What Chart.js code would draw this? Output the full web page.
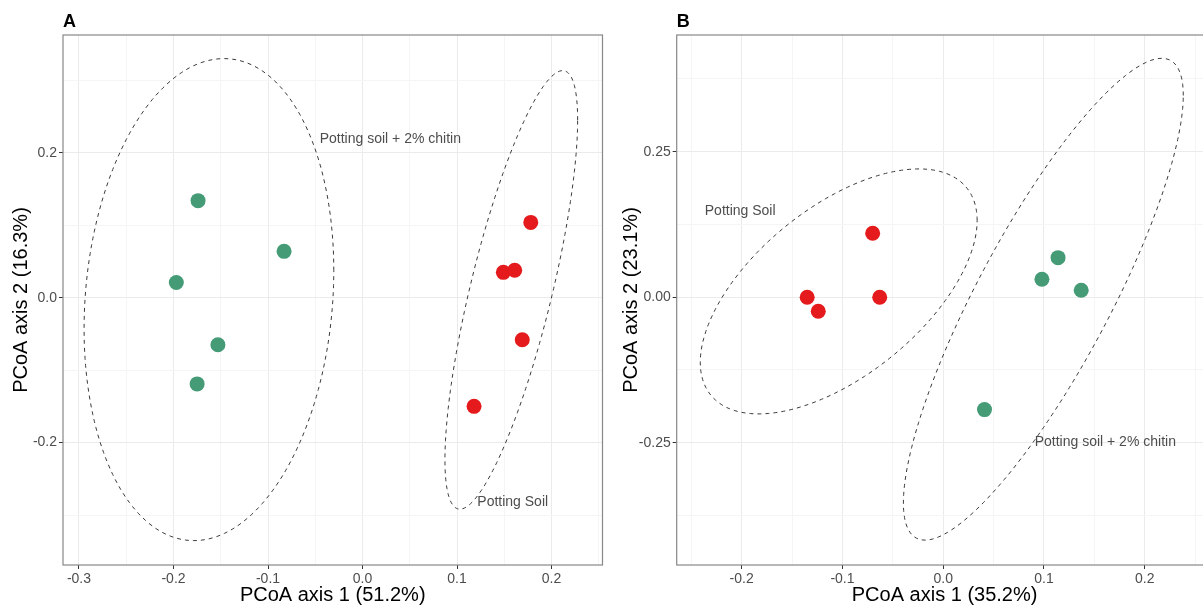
<!DOCTYPE html>
<html>
<head>
<meta charset="utf-8">
<title>PCoA</title>
<script src="https://cdn.jsdelivr.net/npm/chart.js@4.4.1/dist/chart.umd.min.js"></script>
<style>
  html, body { margin: 0; padding: 0; background: #fff; overflow: hidden; }
  .panel { position: absolute; top: 0; height: 607px; }
  #wrapA { left: 0; width: 610px; }
  #wrapB { left: 610px; width: 610px; }
</style>
</head>
<body>
<div class="panel" id="wrapA"><canvas id="chartA"></canvas></div>
<div class="panel" id="wrapB"><canvas id="chartB"></canvas></div>
<script>
// Panel A
const chitinA_x = [-0.174, -0.083, -0.197, -0.153, -0.175];
const chitinA_y = [0.134, 0.064, 0.021, -0.065, -0.119];
const soilA_x = [0.178, 0.149, 0.161, 0.169, 0.118];
const soilA_y = [0.104, 0.035, 0.038, -0.058, -0.150];
const xTicksA = [-0.3, -0.2, -0.1, 0.0, 0.1, 0.2];
const xLabelsA = ['-0.3', '-0.2', '-0.1', '0.0', '0.1', '0.2'];
const yTicksA = [-0.2, 0.0, 0.2];
const yLabelsA = ['-0.2', '0.0', '0.2'];
const xRangeA = [-0.3169, 0.2539];
const yRangeA = [-0.369, 0.3627];
// ellipses: centre, rightmost-point offset (u), vertical conjugate (v)
const ellCentreA = [[-0.1625, -0.0026], [0.1574, 0.0108]];
const ellUA = [[0.1321, 0.0401], [0.0702, 0.2343]];
const ellVA = [[0, 0.3303], [0, 0.1917]];
const textA = ['Potting soil + 2% chitin', 'Potting Soil'];
const textPosA = [[0.0294, 0.2184], [0.1589, -0.2825]];

// Panel B
const chitinB_x = [0.114, 0.098, 0.137, 0.041];
const chitinB_y = [0.068, 0.031, 0.012, -0.193];
const soilB_x = [-0.070, -0.135, -0.063, -0.124];
const soilB_y = [0.110, 0.000, 0.000, -0.024];
const xTicksB = [-0.2, -0.1, 0.0, 0.1, 0.2];
const xLabelsB = ['-0.2', '-0.1', '0.0', '0.1', '0.2'];
const yTicksB = [-0.25, 0.0, 0.25];
const yLabelsB = ['-0.25', '0.00', '0.25'];
const xRangeB = [-0.2645, 0.2673];
const yRangeB = [-0.460, 0.4505];
const ellCentreB = [[-0.1037, 0.0100], [0.0994, -0.0034]];
const ellUB = [[0.1374, 0.1218], [0.1389, 0.3500]];
const ellVB = [[0, 0.1716], [0, 0.2208]];
const textB = ['Potting Soil', 'Potting soil + 2% chitin'];
const textPosB = [[-0.2015, 0.1473], [0.1609, -0.2497]];

const RED = '#E41A1C';
const GREEN = '#449B75';
const FONT = '"Liberation Sans", Arial, sans-serif';

// major ticks + minor gridlines halfway between them
function buildTicks(major, labels, range) {
  const step = major[1] - major[0];
  const out = major.map((v, i) => ({ value: v, isMajor: true, text: labels[i] }));
  for (let i = -1; i < major.length; i++) {
    const m = i < 0 ? major[0] - step / 2 : major[i] + step / 2;
    if (m > range[0] && m < range[1]) out.push({ value: m, isMajor: false, text: '' });
  }
  return out.sort((a, b) => a.value - b.value);
}

function scaleOpts(axis, range, ticks, labels, title, fit) {
  return {
    type: 'linear',
    position: axis === 'x' ? 'bottom' : 'left',
    min: range[0], max: range[1],
    afterBuildTicks: s => { s.ticks = buildTicks(ticks, labels, range); },
    afterFit: s => { if (axis === 'x') s.height = fit; else s.width = fit; },
    grid: {
      color: c => (c.tick && c.tick.isMajor ? '#EBEBEB' : '#F5F5F5'),
      lineWidth: 1,
      tickColor: c => (c.tick && c.tick.isMajor ? '#333333' : 'rgba(0,0,0,0)'),
      tickLength: 4,
      drawTicks: true
    },
    border: { display: false },
    ticks: {
      autoSkip: false, maxRotation: 0, padding: 2,
      color: '#4D4D4D', font: { family: FONT, size: 14 },
      callback: (v, i, arr) => arr[i].text || ''
    },
    title: {
      display: true, text: title, color: '#000',
      font: { family: FONT, size: 20 },
      padding: { top: 9, bottom: 0 }
    }
  };
}

function extras(letter, centres, us, vs, texts, textPos) {
  return {
    id: 'extras' + letter,
    beforeDatasetsDraw(chart) {
      const { ctx, chartArea: a, scales: { x, y } } = chart;
      ctx.save();
      ctx.beginPath();
      ctx.rect(a.left, a.top, a.right - a.left, a.bottom - a.top);
      ctx.clip();
      ctx.setLineDash([4, 4]);
      ctx.lineWidth = 1;
      ctx.strokeStyle = '#3a3a3a';
      centres.forEach((c, k) => {
        const u = us[k], v = vs[k];
        ctx.beginPath();
        for (let i = 0; i <= 200; i++) {
          const t = i / 200 * Math.PI * 2;
          const px = x.getPixelForValue(c[0] + u[0] * Math.cos(t) + v[0] * Math.sin(t));
          const py = y.getPixelForValue(c[1] + u[1] * Math.cos(t) + v[1] * Math.sin(t));
          if (i) ctx.lineTo(px, py); else ctx.moveTo(px, py);
        }
        ctx.stroke();
      });
      ctx.setLineDash([]);
      ctx.font = '14px ' + FONT;
      ctx.fillStyle = '#4D4D4D';
      ctx.textAlign = 'center';
      ctx.textBaseline = 'middle';
      texts.forEach((t, k) => {
        ctx.fillText(t, x.getPixelForValue(textPos[k][0]), y.getPixelForValue(textPos[k][1]));
      });
      ctx.restore();
    },
    afterDatasetsDraw(chart) {
      const { ctx, chartArea: a } = chart;
      ctx.save();
      ctx.strokeStyle = '#888';
      ctx.lineWidth = 1.2;
      ctx.strokeRect(a.left, a.top, a.right - a.left, a.bottom - a.top);
      ctx.fillStyle = '#000';
      ctx.font = 'bold 18px ' + FONT;
      ctx.textAlign = 'left';
      ctx.textBaseline = 'alphabetic';
      ctx.fillText(letter, a.left, 27);
      ctx.restore();
    }
  };
}

function pts(xs, ys) { return xs.map((x, i) => ({ x, y: ys[i] })); }

function makeChart(id, letter, d) {
  return new Chart(document.getElementById(id), {
    type: 'scatter',
    data: {
      datasets: [
        { data: pts(d.gx, d.gy), backgroundColor: GREEN, borderWidth: 0, pointRadius: 7.5, pointHoverRadius: 7.5 },
        { data: pts(d.rx, d.ry), backgroundColor: RED, borderWidth: 0, pointRadius: 7.5, pointHoverRadius: 7.5 }
      ]
    },
    options: {
      responsive: true,
      maintainAspectRatio: false,
      animation: false,
      events: [],
      layout: { padding: { top: 35, right: 7.3, bottom: 0, left: 0 } },
      scales: {
        x: scaleOpts('x', d.xr, d.xt, d.xl, d.xTitle, 42),
        y: scaleOpts('y', d.yr, d.yt, d.yl, d.yTitle, d.yw)
      },
      plugins: { legend: { display: false }, tooltip: { enabled: false } }
    },
    plugins: [extras(letter, d.ec, d.eu, d.ev, d.tx, d.tp)]
  });
}

makeChart('chartA', 'A', {
  gx: chitinA_x, gy: chitinA_y, rx: soilA_x, ry: soilA_y,
  xr: xRangeA, yr: yRangeA, xt: xTicksA, xl: xLabelsA, yt: yTicksA, yl: yLabelsA,
  xTitle: 'PCoA axis 1 (51.2%)', yTitle: 'PCoA axis 2 (16.3%)', yw: 63,
  ec: ellCentreA, eu: ellUA, ev: ellVA, tx: textA, tp: textPosA
});
makeChart('chartB', 'B', {
  gx: chitinB_x, gy: chitinB_y, rx: soilB_x, ry: soilB_y,
  xr: xRangeB, yr: yRangeB, xt: xTicksB, xl: xLabelsB, yt: yTicksB, yl: yLabelsB,
  xTitle: 'PCoA axis 1 (35.2%)', yTitle: 'PCoA axis 2 (23.1%)', yw: 66.7,
  ec: ellCentreB, eu: ellUB, ev: ellVB, tx: textB, tp: textPosB
});
</script>
</body>
</html>
